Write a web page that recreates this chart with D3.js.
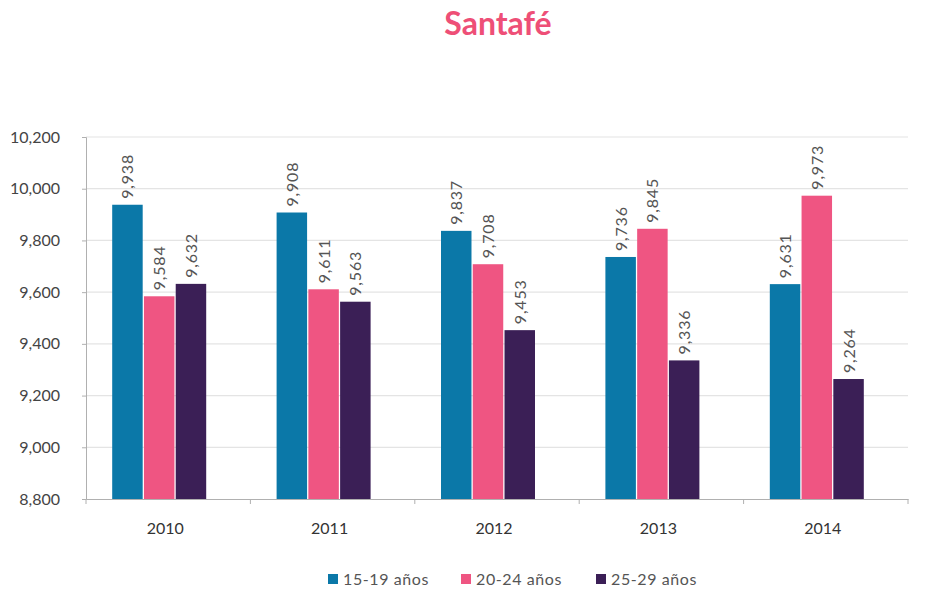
<!DOCTYPE html>
<html>
<head>
<meta charset="utf-8">
<script src="https://cdn.jsdelivr.net/npm/d3@7"></script>
<style>
  body { margin: 0; background: #fff; }
  text { font-family: Lato, "Open Sans", sans-serif; }
</style>
</head>
<body>
<script>
// categories and series
var years = ['2010', '2011', '2012', '2013', '2014'];
var seriesNames = ['15-19 años', '20-24 años', '25-29 años'];
var age1519 = [9938, 9908, 9837, 9736, 9631];
var age2024 = [9584, 9611, 9708, 9845, 9973];
var age2529 = [9632, 9563, 9453, 9336, 9264];
var yTicks = [8800, 9000, 9200, 9400, 9600, 9800, 10000, 10200];
var colors = ['#0b78a8', '#ef5582', '#3b1f56'];

var width = 935, height = 590;
var margin = { left: 86, right: 27, top: 137, bottom: 91 };

var svg = d3.select('body').append('svg')
    .attr('width', width)
    .attr('height', height);

svg.append('text')
    .attr('x', 498)
    .attr('y', 35)
    .attr('text-anchor', 'middle')
    .attr('fill', '#ee4f77')
    .style('font-size', '32px')
    .style('font-weight', 'bold')
    .text('Santafé');

var x = d3.scaleBand()
    .domain(years)
    .range([margin.left, width - margin.right]);

var inner = d3.scaleBand()
    .domain(seriesNames)
    .range([0, 94])
    .paddingInner(0.04);

var y = d3.scaleLinear()
    .domain([8800, 10200])
    .range([height - margin.bottom, margin.top]);

// gridlines
svg.append('g')
    .selectAll('line')
    .data(yTicks.slice(1))
    .enter()
    .append('line')
    .attr('x1', margin.left)
    .attr('x2', width - margin.right)
    .attr('y1', function(d){ return y(d); })
    .attr('y2', function(d){ return y(d); })
    .attr('stroke', '#e4e4e4')
    .attr('stroke-width', 1.2);

// y axis
var yAxis = svg.append('g')
    .attr('transform', 'translate(' + margin.left + ',0)')
    .call(d3.axisLeft(y).tickValues(yTicks).tickFormat(d3.format(',')).tickSize(4).tickPadding(22));
yAxis.select('.domain').attr('stroke', '#b0b0b0');
yAxis.selectAll('.tick line').attr('stroke', '#b0b0b0');
yAxis.selectAll('text').attr('fill', '#444').style('font-size', '16px')
    .style('font-family', 'Lato, "Open Sans", sans-serif');

// x axis
var xAxis = svg.append('g')
    .attr('transform', 'translate(0,' + y(8800) + ')')
    .call(d3.axisBottom(x).tickSize(0).tickPadding(24));
xAxis.select('.domain').attr('stroke', '#b0b0b0');
xAxis.selectAll('text').attr('fill', '#333').style('font-size', '16px')
    .attr('dx', -3)
    .style('font-family', 'Lato, "Open Sans", sans-serif');
// boundary ticks between categories
svg.append('g')
    .selectAll('line')
    .data(d3.range(years.length + 1))
    .enter()
    .append('line')
    .attr('x1', function(i){ return margin.left + i * x.step(); })
    .attr('x2', function(i){ return margin.left + i * x.step(); })
    .attr('y1', y(8800))
    .attr('y2', y(8800) + 5)
    .attr('stroke', '#b0b0b0');

var series = [age1519, age2024, age2529];
var rows = [];
years.forEach(function(yr, i){
    series.forEach(function(s, j){
        rows.push({ year: yr, name: seriesNames[j], value: s[i], idx: j });
    });
});

function barX(d){
    return x(d.year) + x.bandwidth() / 2 - 47 - 9 + inner(d.name);
}

svg.append('g')
    .selectAll('rect')
    .data(rows)
    .enter()
    .append('rect')
    .attr('x', barX)
    .attr('y', function(d){ return y(d.value); })
    .attr('width', inner.bandwidth())
    .attr('height', function(d){ return y(8800) - y(d.value); })
    .attr('fill', function(d){ return colors[d.idx]; });

svg.append('g')
    .selectAll('text')
    .data(rows)
    .enter()
    .append('text')
    .attr('transform', function(d){
        return 'translate(' + (barX(d) + inner.bandwidth() / 2 + 6) + ',' + (y(d.value) - 6) + ') rotate(-90)';
    })
    .attr('fill', '#555')
    .style('font-size', '16px')
    .style('letter-spacing', '0.8px')
    .text(function(d){ return d3.format(',')(d.value); });

// legend
var legendX = [328, 461, 596];
var legend = svg.append('g')
    .selectAll('g')
    .data(seriesNames)
    .enter()
    .append('g')
    .attr('transform', function(d, i){ return 'translate(' + legendX[i] + ',579)'; });
legend.append('rect')
    .attr('x', 0).attr('y', -5)
    .attr('width', 10).attr('height', 10)
    .attr('fill', function(d, i){ return colors[i]; });
legend.append('text')
    .attr('x', 15).attr('y', 5.5)
    .attr('fill', '#555')
    .style('font-size', '16px')
    .style('letter-spacing', '0.6px')
    .text(function(d){ return d; });
</script>
</body>
</html>
